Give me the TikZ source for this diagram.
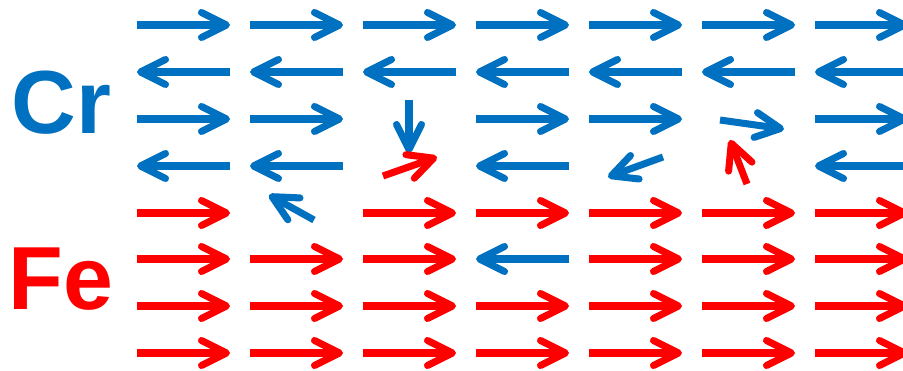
\documentclass[tikz,border=0pt]{standalone}
\usepackage{fontspec}
\setmainfont{Liberation Sans}
\usetikzlibrary{arrows.meta}
\definecolor{crblue}{RGB}{0,112,192}
\definecolor{fered}{RGB}{255,0,0}
\tikzset{
  spin/.style={line width=4pt, -{Straight Barb[length=0.5cm,width=0.5cm,round]}},
  cr/.style={spin, crblue},
  fe/.style={spin, fered},
  elem/.style={font=\bfseries\fontsize{51}{51}\selectfont, inner sep=0pt, anchor=base west}
}
\begin{document}
\begin{tikzpicture}[x=0.02cm, y=-0.02cm]
\useasboundingbox (0,0) rectangle (903,371);

\node[elem, text=crblue] (cr) at (11,134) {Cr};
\node[elem, text=fered] (fe) at (8,310) {Fe};

% Cr layers
\foreach \c in {0,...,6} \draw[cr] (137+113*\c,25) -- +(93,0);
\foreach \c in {0,...,6} \draw[cr] (230+113*\c,72) -- +(-93,0);
\foreach \c in {0,1,3,4,6} \draw[cr] (137+113*\c,119) -- +(93,0);
\foreach \c in {0,1,3,6} \draw[cr] (230+113*\c,166) -- +(-93,0);

% Fe layers
\foreach \c in {0,2,3,4,5,6} \draw[fe] (137+113*\c,213) -- +(93,0);
\foreach \c in {0,1,2,4,5,6} \draw[fe] (137+113*\c,259) -- +(93,0);
\draw[cr] (569,259) -- +(-93,0);
\foreach \y in {306,353}
  \foreach \c in {0,...,6} \draw[fe] (137+113*\c,\y) -- +(93,0);

% canted spins
\draw[cr] (409,100) -- (409,153);
\draw[fe] (383,176) -- (437,157);
\draw[cr] (663,157) -- (608,177);
\draw[fe] (747,184) -- (730,140);
\draw[cr] (720,120) -- (784,129);
\draw[cr] (314,220) -- (269,195);
\end{tikzpicture}
\end{document}
